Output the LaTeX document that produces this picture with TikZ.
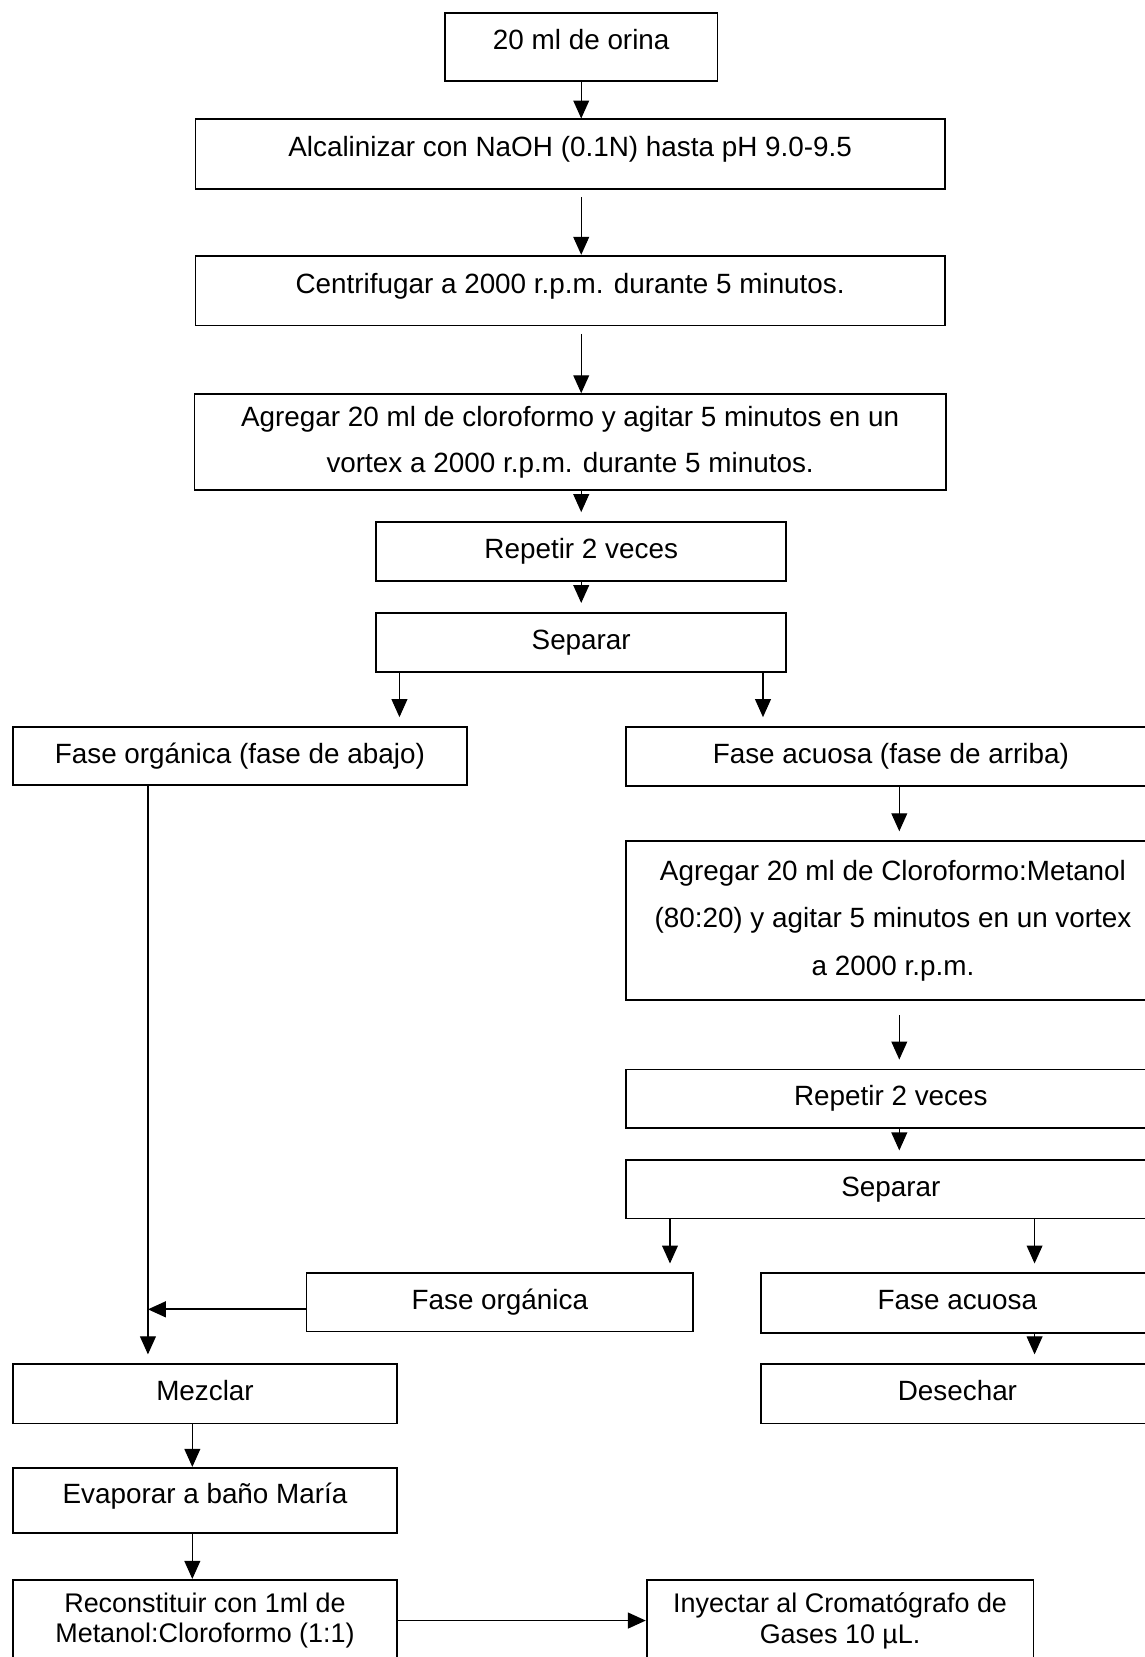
\documentclass[tikz,border=0pt]{standalone}
\usepackage{fontspec}
\setmainfont{Liberation Sans}
\usetikzlibrary{arrows.meta}

\begin{document}
\begin{tikzpicture}[x=0.2mm, y=-0.2mm, >={Triangle[length=3.4mm,width=3mm]},
	caja/.style={draw, line width=1pt, rectangle, inner sep=0pt, font=\fontsize{15}{18}\selectfont, text height=11pt, text depth=3.5pt},
	alta/.style={text depth=8.2pt},
	varias/.style={draw, line width=1pt, rectangle, inner sep=0pt, align=center, font=\fontsize{15}{18}\selectfont},
	chica/.style={font=\fontsize{14.5}{16.5}\selectfont},
	flecha/.style={->, line width=0.6pt},
	corta/.style={shorten >=1.7mm}]
			% Fix the page to the size of the sheet
			\useasboundingbox (0,0) rectangle (1083,1568);
			
			% Columns used by the connectors
			\coordinate (colB) at (851,0);
			\coordinate (colC) at (140,0);
			\coordinate (colD) at (182,0);
			\coordinate (colE) at (979,0);
			
			% Draw the main column
			\node[caja, alta, minimum width=51.6mm, minimum height=13mm] (orina) at (550,44.5) {20 ml de orina};
			\node[caja, alta, minimum width=141.8mm, minimum height=13.2mm] (alcal) at (539.5,146) {Alcalinizar con NaOH (0.1N) hasta pH 9.0-9.5};
			\node[caja, alta, minimum width=141.8mm, minimum height=13.2mm] (centri) at (539.5,275) {Centrifugar a 2000 r.p.m. durante 5 minutos.};
			\node[varias, minimum width=142.2mm, minimum height=18.2mm] (cloro) at (539.5,418.5) {Agregar 20 ml de cloroformo y agitar 5 minutos en un\\[7pt] vortex a 2000 r.p.m. durante 5 minutos.};
			\node[caja, minimum width=77.6mm, minimum height=11.2mm] (repetir) at (550,522) {Repetir 2 veces};
			\node[caja, minimum width=77.6mm, minimum height=11.2mm] (separar) at (550,608) {Separar};
			
			\draw[flecha] (orina.south) -- (orina.south |- alcal.north);
			\draw[flecha, shorten <=1.4mm] (orina.south |- alcal.south) -- (orina.south |- centri.north);
			\draw[flecha, shorten <=1.4mm] (orina.south |- centri.south) -- (orina.south |- cloro.north);
			\draw[flecha, corta] (orina.south |- cloro.south) -- (orina.south |- repetir.north);
			\draw[flecha, corta] (orina.south |- repetir.south) -- (orina.south |- separar.north);
			
			% First separation
			\node[caja, minimum width=86mm, minimum height=11mm] (organica) at (227,715.5) {Fase orgánica (fase de abajo)};
			\node[caja, minimum width=100.4mm, minimum height=11.2mm] (acuosa) at (843,716) {Fase acuosa (fase de arriba)};
			\draw[flecha, corta] ([xshift=-34.4mm]separar.south) -- ([xshift=-34.4mm]separar.south |- organica.north);
			\draw[flecha, corta] ([xshift=34.4mm]separar.south) -- ([xshift=34.4mm]separar.south |- acuosa.north);
			
			% Right branch
			\node[varias, minimum width=101.2mm, minimum height=30mm] (cloromet) at (845,871) {Agregar 20 ml de Cloroformo:Metanol\\[7.6pt] (80:20) y agitar 5 minutos en un vortex\\[7.6pt] a 2000 r.p.m.};
			\node[caja, minimum width=100.4mm, minimum height=11mm] (repetirdos) at (843,1039.5) {Repetir 2 veces};
			\node[caja, minimum width=100.4mm, minimum height=11mm] (separardos) at (843,1125.5) {Separar};
			\draw[flecha, corta] (acuosa.south -| colB) -- (cloromet.north -| colB);
			\draw[flecha, corta, shorten <=2.8mm] (cloromet.south -| colB) -- (repetirdos.north -| colB);
			\draw[flecha, corta] (repetirdos.south -| colB) -- (separardos.north -| colB);
			
			% Second separation
			\node[caja, minimum width=73.2mm, minimum height=11mm] (organicados) at (473,1232.5) {Fase orgánica};
			\node[caja, minimum width=74.4mm, minimum height=11.2mm] (acuosados) at (906,1233) {Fase acuosa};
			\node[caja, minimum width=74.4mm, minimum height=11.2mm] (desechar) at (906,1319) {Desechar};
			\draw[flecha, corta] ([xshift=-41.8mm]separardos.south) -- ([xshift=-41.8mm]separardos.south |- organicados.north);
			\draw[flecha, corta] (separardos.south -| colE) -- (acuosados.north -| colE);
			\draw[flecha, corta] (acuosados.south -| colE) -- (desechar.north -| colE);
			
			% Join both organic phases
			\node[caja, minimum width=72.8mm, minimum height=11.2mm] (mezclar) at (194,1319) {Mezclar};
			\draw[flecha, corta] (organica.south -| colC) -- (mezclar.north -| colC);
			\draw[flecha, line width=1pt] ([yshift=-1.3mm]organicados.west) -- ([yshift=-1.3mm]organicados.west -| colC);
			
			% Final steps
			\node[caja, alta, minimum width=72.8mm, minimum height=12.4mm] (evaporar) at (194,1420) {Evaporar a baño María};
			\node[varias, chica, minimum width=72.8mm, minimum height=15.4mm] (recons) at (194,1533.5) {Reconstituir con 1ml de\\ Metanol:Cloroformo (1:1)};
			\node[varias, chica, minimum width=73.2mm, minimum height=15.4mm] (inyectar) at (795,1533.5) {Inyectar al Cromatógrafo de\\ Gases 10 µL.};
			\draw[flecha] (mezclar.south -| colD) -- (evaporar.north -| colD);
			\draw[flecha] (evaporar.south -| colD) -- (recons.north -| colD);
			\draw[flecha, line width=1pt] (recons.east) -- (inyectar.west);
			\end{tikzpicture}
\end{document}
